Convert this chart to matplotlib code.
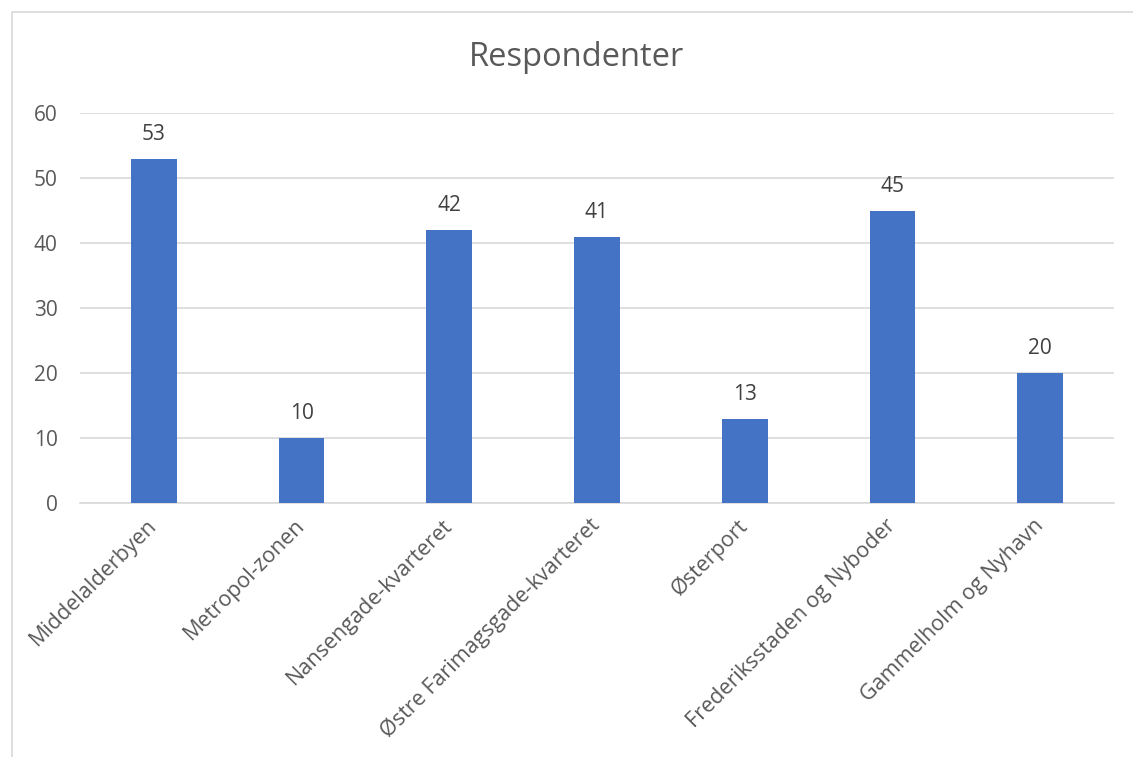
import matplotlib.pyplot as plt
from matplotlib.patches import Rectangle

# Data
categories = ['Middelalderbyen', 'Metropol-zonen', 'Nansengade-kvarteret',
              'Østre Farimagsgade-kvarteret', 'Østerport',
              'Frederiksstaden og Nyboder', 'Gammelholm og Nyhavn']
values = [53, 10, 42, 41, 13, 45, 20]
yticks = [0, 10, 20, 30, 40, 50, 60]

text_color = '#595959'
plt.rcParams['font.family'] = ['Open Sans', 'DejaVu Sans']

fig = plt.figure(figsize=(11.33, 7.57), dpi=100)
ax = fig.add_axes([0.0706, 0.3355, 0.9126, 0.5152])

x = range(len(categories))
bars = ax.bar(x, values, width=0.31, color='#4472C4', zorder=3)

for xi, v in zip(x, values):
    ax.text(xi, v + 3.7, str(v), ha='center', va='center', fontsize=15, color='#404040')

ax.set_xlim(-0.5, len(categories) - 0.5)
ax.set_ylim(0, 60)
ax.set_yticks(yticks)
ax.set_yticklabels([str(t) for t in yticks], fontsize=15, color=text_color)
ax.yaxis.grid(True, color='#d9d9d9', linewidth=1.2, zorder=0)
ax.tick_params(axis='y', length=0, pad=16)
ax.tick_params(axis='x', length=0, pad=14)
ax.set_xticks(list(x))
ax.set_xticklabels(categories, rotation=45, ha='right', va='center',
                   rotation_mode='anchor', fontsize=15.5, color=text_color)

for s in ['top', 'right', 'left']:
    ax.spines[s].set_visible(False)
ax.spines['bottom'].set_color('#d9d9d9')
ax.spines['bottom'].set_linewidth(1.2)

fig.text(577 / 1133, 1 - 57 / 757, 'Respondenter', ha='center', va='center',
         fontsize=23.5, color=text_color)

# chart border (only left and top edges are inside the picture)
fig.patches.append(Rectangle((12 / 1133, -0.1), 1.2, 1.1 - 12 / 757,
                             transform=fig.transFigure, fill=False,
                             edgecolor='#d9d9d9', linewidth=1.2))

fig.savefig('out.png', dpi=100)
